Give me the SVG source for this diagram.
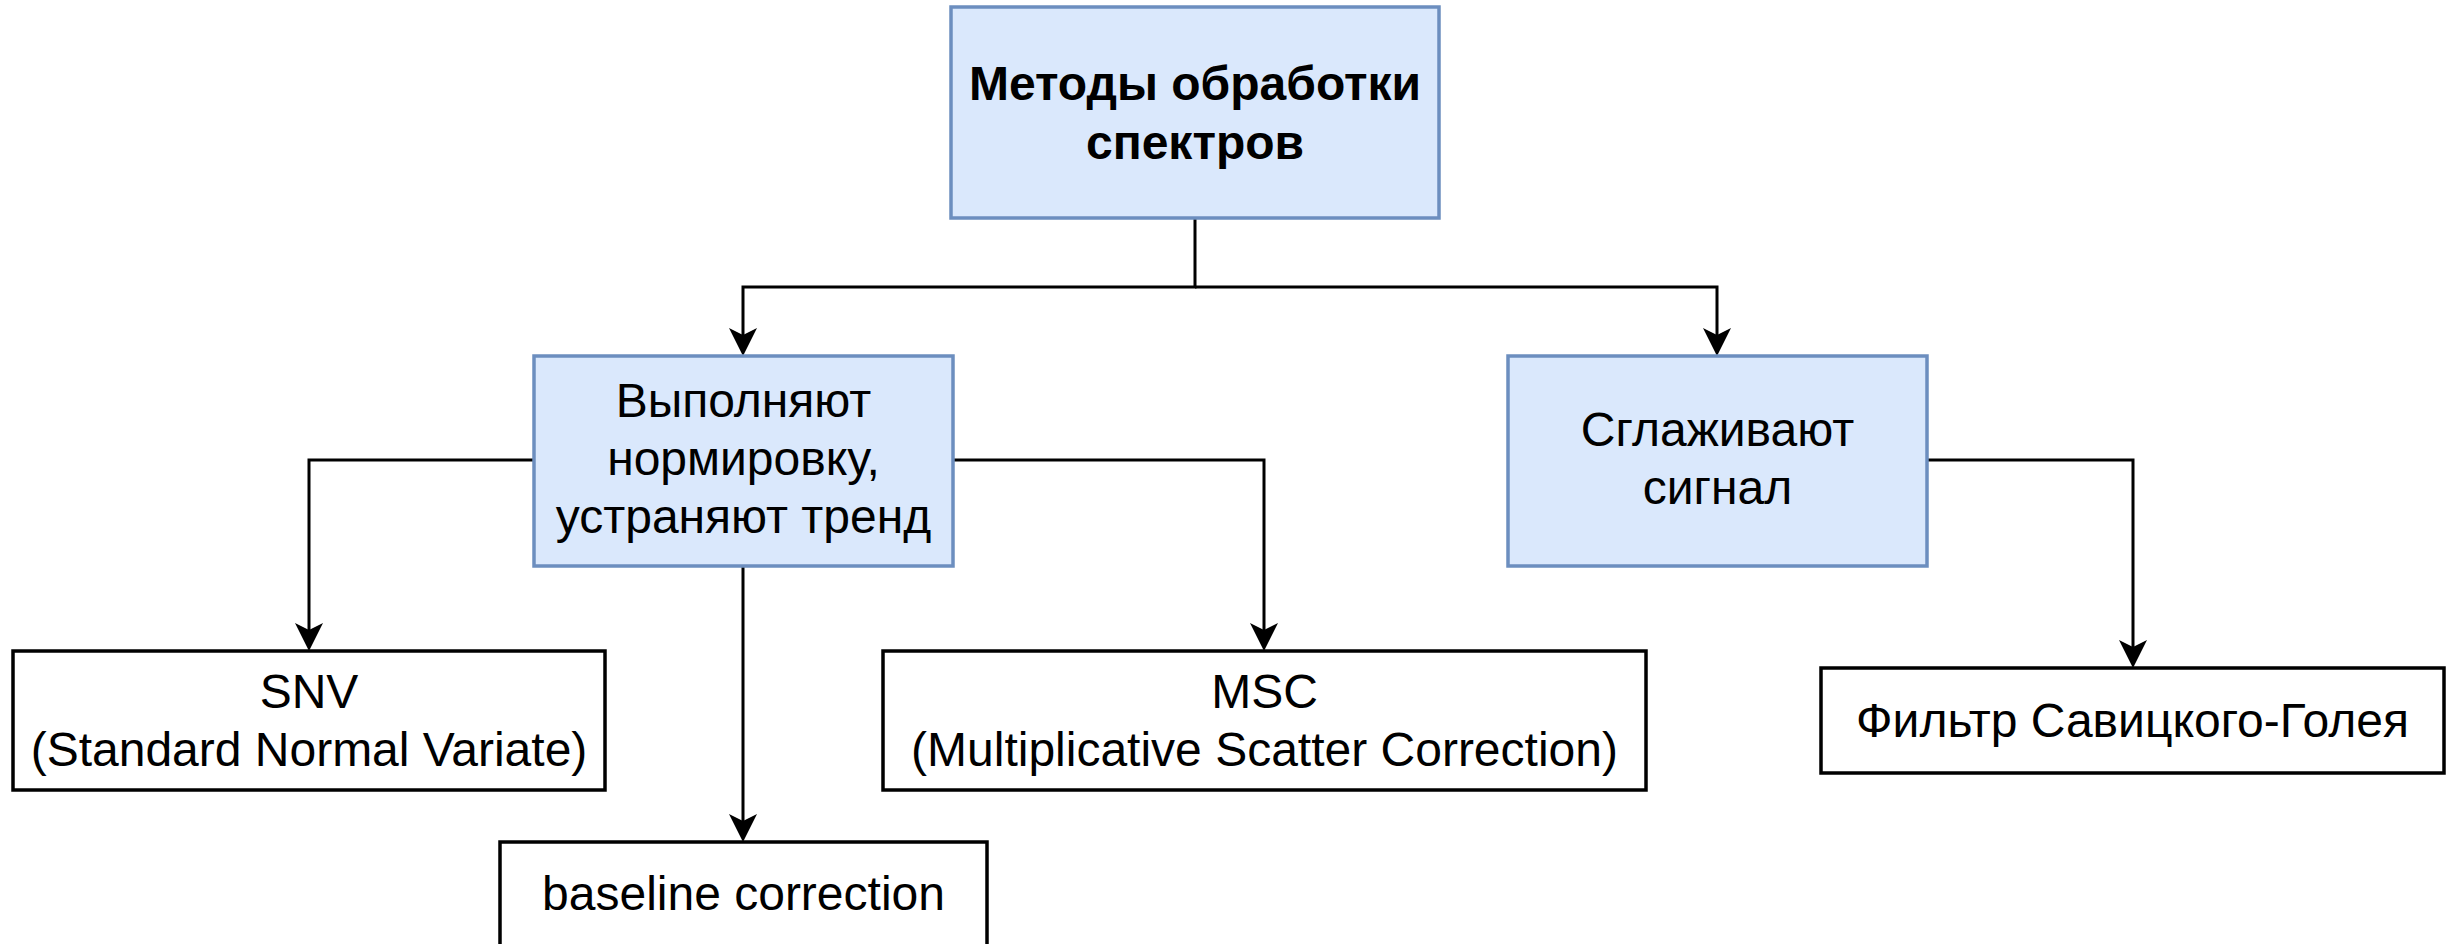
<svg xmlns="http://www.w3.org/2000/svg" width="2453" height="944" viewBox="0 0 2453 944">
  <style>
    .blue { fill: #dae8fc; stroke: #6c8ebf; stroke-width: 3.5; }
    .white { fill: #ffffff; stroke: #000000; stroke-width: 3.5; }
    .t { font-family: "Liberation Sans", Arial, sans-serif; font-size: 48px; fill: #000000; text-anchor: middle; }
    .b { font-weight: bold; }
    .edge { fill: none; stroke: #000000; stroke-width: 3; }
  </style>
  <defs>
    <marker id="arrow" markerUnits="userSpaceOnUse" markerWidth="28" markerHeight="28" viewBox="0 0 28 28" refX="18" refY="14" orient="auto">
      <path d="M28,14 L0,0 L7,14 L0,28 Z" fill="#000000"/>
    </marker>
  </defs>
  <rect width="2453" height="944" fill="#ffffff"/>

  <g id="connectors">
    <path class="edge" d="M1195,218 V287 H743 V346" marker-end="url(#arrow)"/>
    <path class="edge" d="M1195,287 H1717 V346" marker-end="url(#arrow)"/>
    <path class="edge" d="M534,460 H309 V641" marker-end="url(#arrow)"/>
    <path class="edge" d="M743,566 V832" marker-end="url(#arrow)"/>
    <path class="edge" d="M953,460 H1264 V641" marker-end="url(#arrow)"/>
    <path class="edge" d="M1927,460 H2133 V658" marker-end="url(#arrow)"/>
  </g>

  <g id="node-title">
    <rect class="blue" x="951" y="7" width="488" height="211"/>
    <text class="t b" x="1195" y="100">Методы обработки</text>
    <text class="t b" x="1195" y="159">спектров</text>
  </g>

  <g id="node-normalize">
    <rect class="blue" x="534" y="356" width="419" height="210"/>
    <text class="t" x="743.5" y="417">Выполняют</text>
    <text class="t" x="743.5" y="475">нормировку,</text>
    <text class="t" x="743.5" y="533">устраняют тренд</text>
  </g>

  <g id="node-smooth">
    <rect class="blue" x="1508" y="356" width="419" height="210"/>
    <text class="t" x="1717.5" y="446">Сглаживают</text>
    <text class="t" x="1717.5" y="504">сигнал</text>
  </g>

  <g id="node-snv">
    <rect class="white" x="13" y="651" width="592" height="139"/>
    <text class="t" x="309" y="708">SNV</text>
    <text class="t" x="309" y="766">(Standard Normal Variate)</text>
  </g>

  <g id="node-baseline">
    <rect class="white" x="500" y="842" width="487" height="112"/>
    <text class="t" x="743.5" y="910">baseline correction</text>
  </g>

  <g id="node-msc">
    <rect class="white" x="883" y="651" width="763" height="139"/>
    <text class="t" x="1264.5" y="708">MSC</text>
    <text class="t" x="1264.5" y="766">(Multiplicative Scatter Correction)</text>
  </g>

  <g id="node-savgol">
    <rect class="white" x="1821" y="668" width="623" height="105"/>
    <text class="t" x="2132.5" y="737">Фильтр Савицкого-Голея</text>
  </g>
</svg>
